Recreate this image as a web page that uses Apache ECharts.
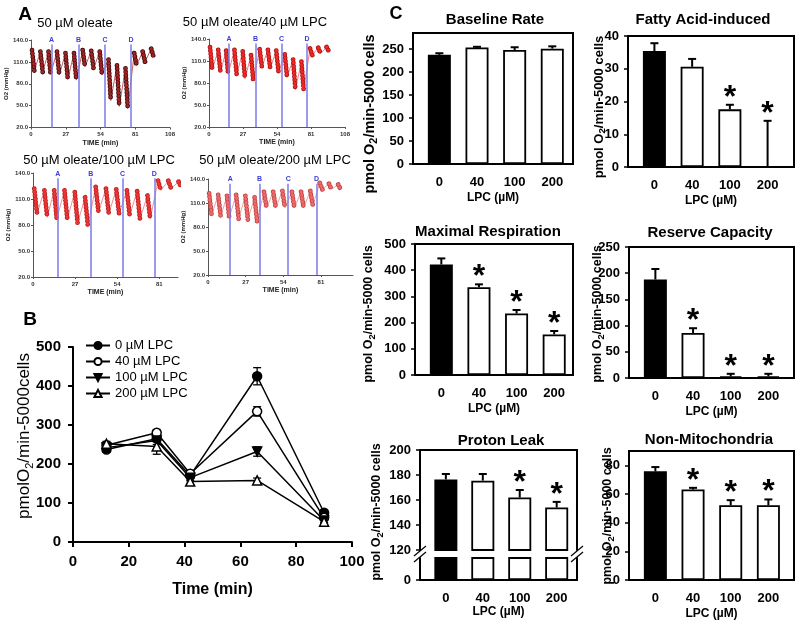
<!DOCTYPE html>
<html><head><meta charset="utf-8">
<script src="https://cdn.jsdelivr.net/npm/echarts@6/dist/echarts.min.js"></script>
<style>html,body{margin:0;padding:0;background:#fff}#c{width:800px;height:624px}</style>
</head><body><div id="c"></div>
<script>
// ---------- Panel A : O2 traces ----------
const cycleStart = [0.8, 7.3, 13.6, 20.2, 26.8, 33.4, 40.2, 46.8, 53.4, 60.2, 66.8, 73.4, 80.2, 86.8, 93.4];
const cycleEnd   = [2.6, 9.1, 15.2, 22.0, 28.6, 35.2, 42.0, 48.6, 55.2, 62.0, 68.6, 75.2, 82.0, 88.6, 95.2];
const injectTimes  = [15.9, 37.0, 57.5, 77.8];
const injectLabels = ['A', 'B', 'C', 'D'];
const timeTicksA = [0, 27, 54, 81, 108];
const o2Ticks = [20, 50, 80, 110, 140];
const a1Top    = [126, 124, 124, 124, 122, 122, 126, 125, 124, 113, 105, 101, 122, 124, 128];
const a1Bottom = [98, 96, 93, 92, 86, 85, 103, 101, 92, 57, 49, 46, 105, 110, 117];
const a2Top    = [129, 125, 124, 125, 123, 118, 126, 125, 124, 119, 112, 109, 127, 128, 129];
const a2Bottom = [98, 95, 92, 91, 86, 83, 102, 100, 95, 88, 71, 70, 118, 120, 123];
const a3Top    = [122, 120, 120, 120, 118, 112, 124, 122, 121, 120, 119, 114, 131, 131, 130];
const a3Bottom = [93, 89, 87, 87, 82, 79, 95, 93, 93, 91, 87, 87, 120, 122, 123];
const a4Top    = [122, 120, 119, 120, 119, 117, 124, 124, 125, 124, 124, 125, 135, 134, 133];
const a4Bottom = [95, 93, 92, 90, 89, 87, 104, 104, 104, 104, 104, 107, 127, 127, 127];

// ---------- Panel B : OCR time course ----------
const timeB   = [12, 30, 42, 66, 90];
const lpc0    = [237, 265, 170, 425, 75];
const lpc40   = [248, 280, 175, 335, 62];
const lpc100  = [242, 260, 165, 232, 55];
const lpc200  = [252, 245, 155, 158, 52];
const err0    = [6, 8, 8, 22, 5];
const err40   = [6, 8, 8, 12, 5];
const err100  = [6, 10, 8, 12, 5];
const err200  = [6, 20, 8, 6, 5];
const namesB  = ['0 \u00b5M LPC', '40 \u00b5M LPC', '100 \u00b5M LPC', '200 \u00b5M LPC'];

// ---------- Panel C : bar charts ----------
const lpcCats = ['0', '40', '100', '200'];
const baseline = [237.5, 253.5, 248, 251];
const baselineErr = [3.5, 1.5, 6, 5];
const baselineSig = [0, 0, 0, 0];
const fattyAcid = [35.4, 30.6, 17.6, 0];
const fattyAcidErr = [2.4, 2.4, 1.4, 14.1];
const fattyAcidSig = [0, 0, 1, 1];
const maximal = [422, 335, 235, 155];
const maximalErr = [23, 11, 13, 13];
const maximalSig = [0, 1, 1, 1];
const reserve = [188, 86, 3, 3];
const reserveErr = [20, 9, 5, 5];
const reserveSig = [0, 1, 1, 1];
const proton = [176.5, 175.5, 162, 154];
const protonErr = [4.3, 5.3, 6, 4.5];
const protonSig = [0, 0, 1, 1];
const nonMito = [75.8, 63.1, 52.2, 52.2];
const nonMitoErr = [3, 1.2, 3.5, 4];
const nonMitoSig = [0, 1, 1, 1];
const barFill = ['#000000', '#ffffff', '#ffffff', '#ffffff'];

const FONT = '"Liberation Sans", Arial, sans-serif';
const grids = [], xAxes = [], yAxes = [], series = [], graphics = [];
function addGrid(g) { grids.push(Object.assign({ outerBoundsMode: 'none', containLabel: false }, g)); return grids.length - 1; }
function addX(a) { xAxes.push(a); return xAxes.length - 1; }
function addY(a) { yAxes.push(a); return yAxes.length - 1; }
function txt(x, y, text, font) {
  graphics.push({ type: 'text', x: x, y: y, silent: true,
    style: { text: text, font: font, fill: '#000', align: 'center', verticalAlign: 'middle',
      textAlign: 'center', textVerticalAlign: 'middle' } });
}

// ----- Panel A builder -----
function panelA(rect, xMax, tops, bottoms, dotColor, edgeColor, lineColor) {
  const gi = addGrid(rect);
  const ticks = timeTicksA.filter(v => v <= xMax);
  const xi = addX({ type: 'value', gridIndex: gi, min: 0, max: xMax,
    axisLine: { show: true, onZero: false, lineStyle: { color: '#555', width: 1 } },
    axisTick: { show: true, length: 2, customValues: ticks, lineStyle: { color: '#555' } },
    axisLabel: { customValues: ticks, fontSize: 6, fontWeight: 'bold', color: '#333', margin: 4, fontFamily: FONT },
    splitLine: { show: false },
    name: 'TIME (min)', nameLocation: 'middle', nameGap: 12,
    nameTextStyle: { fontSize: 7, fontWeight: 'bold', color: '#222', fontFamily: FONT } });
  const yi = addY({ type: 'value', gridIndex: gi, min: 20, max: 140,
    axisLine: { show: true, onZero: false, lineStyle: { color: '#555', width: 1 } },
    axisTick: { show: true, length: 2, customValues: o2Ticks, lineStyle: { color: '#555' } },
    axisLabel: { customValues: o2Ticks, fontSize: 6, fontWeight: 'bold', color: '#333', margin: 3,
      fontFamily: FONT, formatter: v => Number(v).toFixed(1) },
    splitLine: { show: false },
    name: 'O2 (mmHg)', nameLocation: 'middle', nameGap: 16,
    nameTextStyle: { fontSize: 6, fontWeight: 'bold', color: '#222', fontFamily: FONT } });
  const trace = [], dots = [];
  for (let i = 0; i < cycleStart.length; i++) {
    trace.push([cycleStart[i], tops[i]], [cycleEnd[i], bottoms[i]]);
    dots.push([cycleStart[i], tops[i]], [cycleEnd[i], bottoms[i]], [cycleEnd[i], '-']);
  }
  series.push({ type: 'line', xAxisIndex: xi, yAxisIndex: yi, data: trace, symbol: 'none', silent: true,
    lineStyle: { color: lineColor, width: 1 }, z: 2,
    markLine: { symbol: 'none', silent: true, animation: false,
      lineStyle: { color: '#7a7aea', width: 1.5, type: 'solid' },
      label: { show: true, position: 'end', formatter: '{b}', color: '#3c3cd0', fontSize: 7,
        fontWeight: 'bold', distance: 1, fontFamily: FONT },
      data: injectTimes.map((t, i) => [{ name: injectLabels[i], coord: [t, 20] }, { coord: [t, 134] }]) } });
  series.push({ type: 'line', xAxisIndex: xi, yAxisIndex: yi, data: dots, symbol: 'none', silent: true,
    connectNulls: false, lineStyle: { color: edgeColor, width: 4.8, type: [0.01, 3.4], cap: 'round' }, z: 3 });
  series.push({ type: 'line', xAxisIndex: xi, yAxisIndex: yi, data: dots, symbol: 'none', silent: true,
    connectNulls: false, lineStyle: { color: dotColor, width: 3.3, type: [0.01, 3.4], cap: 'round' }, z: 4 });
}
panelA({ left: 31, top: 40, width: 139, height: 87.5 }, 108, a1Top, a1Bottom, '#a02424', '#3a0808', '#c86060');
panelA({ left: 209, top: 39, width: 136, height: 88 }, 108, a2Top, a2Bottom, '#f02828', '#a81010', '#f08080');
panelA({ left: 33, top: 173, width: 145, height: 104 }, 93, a3Top, a3Bottom, '#ee3434', '#b81c1c', '#f09090');
panelA({ left: 208, top: 179, width: 145, height: 96 }, 104, a4Top, a4Bottom, '#ee6a6a', '#b84040', '#f4a0a0');

// ----- Panel B -----
const gB = addGrid({ left: 73, top: 347, width: 279, height: 195 });
const xB = addX({ type: 'value', gridIndex: gB, min: 0, max: 100, interval: 20,
  axisLine: { show: true, onZero: false, lineStyle: { color: '#000', width: 2 } },
  axisTick: { show: true, length: 5, lineStyle: { color: '#000', width: 2 } },
  axisLabel: { fontSize: 15, fontWeight: 'bold', color: '#000', margin: 12, fontFamily: FONT },
  splitLine: { show: false },
  name: 'Time (min)', nameLocation: 'middle', nameGap: 40,
  nameTextStyle: { fontSize: 16, fontWeight: 'bold', color: '#000', fontFamily: FONT } });
const yB = addY({ type: 'value', gridIndex: gB, min: 0, max: 500, interval: 100,
  axisLine: { show: true, onZero: false, lineStyle: { color: '#000', width: 2 } },
  axisTick: { show: true, length: 5, lineStyle: { color: '#000', width: 2 } },
  axisLabel: { fontSize: 15, fontWeight: 'bold', color: '#000', margin: 12, fontFamily: FONT },
  splitLine: { show: false } });
const seriesB = [
  { vals: lpc0, err: err0, symbol: 'circle', rot: 0, fill: '#000' },
  { vals: lpc40, err: err40, symbol: 'circle', rot: 0, fill: '#fff' },
  { vals: lpc100, err: err100, symbol: 'triangle', rot: 180, fill: '#000' },
  { vals: lpc200, err: err200, symbol: 'triangle', rot: 0, fill: '#fff' }
];
function errRenderB(params, api) {
  const x = api.value(0), y = api.value(1), e = api.value(2);
  const hi = api.coord([x, y + e]), lo = api.coord([x, y - e]);
  const st = { stroke: '#000', lineWidth: 1.3 };
  return { type: 'group', children: [
    { type: 'line', shape: { x1: hi[0], y1: hi[1], x2: lo[0], y2: lo[1] }, style: st },
    { type: 'line', shape: { x1: hi[0] - 4, y1: hi[1], x2: hi[0] + 4, y2: hi[1] }, style: st },
    { type: 'line', shape: { x1: lo[0] - 4, y1: lo[1], x2: lo[0] + 4, y2: lo[1] }, style: st }
  ] };
}
seriesB.forEach((s, k) => {
  series.push({ type: 'custom', xAxisIndex: xB, yAxisIndex: yB, silent: true, z: 1,
    data: timeB.map((t, i) => [t, s.vals[i], s.err[i]]), encode: { x: 0, y: 1 }, renderItem: errRenderB });
});
seriesB.forEach((s, k) => {
  series.push({ type: 'line', name: namesB[k], xAxisIndex: xB, yAxisIndex: yB,
    data: timeB.map((t, i) => [t, s.vals[i]]), symbol: s.symbol, symbolRotate: s.rot, symbolSize: 9,
    showAllSymbol: true, lineStyle: { color: '#000', width: 1.5 },
    itemStyle: { color: s.fill, borderColor: '#000', borderWidth: 1.5 }, z: 3 + k });
});
graphics.push({ type: 'text', x: 24, y: 436, rotation: Math.PI / 2, silent: true,
  style: { text: 'pmolO{sub|2}/min-5000cells', font: '17px ' + FONT, fill: '#000', lineHeight: 22,
    align: 'center', verticalAlign: 'middle', textAlign: 'center', textVerticalAlign: 'middle',
    rich: { sub: { fontSize: 11, fontFamily: FONT, lineHeight: 11, verticalAlign: 'bottom', fill: '#000' } } } });

// ----- Panel C builder -----
function errRenderC(params, api) {
  const x = api.value(0), v = api.value(1), e = api.value(2), s = api.value(3);
  const p0 = api.coord([x, v]), p1 = api.coord([x, v + e]);
  const st = { stroke: '#000', lineWidth: 2 };
  const ch = [
    { type: 'line', shape: { x1: p0[0], y1: p0[1], x2: p1[0], y2: p1[1] }, style: st },
    { type: 'line', shape: { x1: p1[0] - 4, y1: p1[1], x2: p1[0] + 4, y2: p1[1] }, style: st }
  ];
  if (s) ch.push({ type: 'text', x: p1[0], y: p1[1] - 7,
    style: { text: '*', font: 'bold 32px ' + FONT, fill: '#000', align: 'center', verticalAlign: 'middle',
      textAlign: 'center', textVerticalAlign: 'middle' } });
  return { type: 'group', children: ch };
}
function catAxis(gi, xMax) {
  return addX({ type: 'value', gridIndex: gi, min: -0.7, max: xMax,
    axisLine: { show: false }, axisTick: { show: false }, splitLine: { show: false },
    axisLabel: { customValues: [0, 1, 2, 3], formatter: v => lpcCats[Math.round(v)],
      fontSize: 13, fontWeight: 'bold', color: '#000', margin: 12, fontFamily: FONT },
    name: 'LPC (\u00b5M)', nameLocation: 'middle', nameGap: 28,
    nameTextStyle: { fontSize: 12, fontWeight: 'bold', color: '#000', fontFamily: FONT } });
}
function valAxis(gi, min, max, ticks) {
  return addY({ type: 'value', gridIndex: gi, min: min, max: max,
    axisLine: { show: true, onZero: false, lineStyle: { color: '#000', width: 2 } },
    axisTick: { show: true, length: 4, customValues: ticks, lineStyle: { color: '#000', width: 1.5 } },
    axisLabel: { customValues: ticks, fontSize: 13, fontWeight: 'bold', color: '#000', margin: 9, fontFamily: FONT },
    splitLine: { show: false } });
}
function addBars(xi, yi, vals, errs, sigs) {
  series.push({ type: 'bar', xAxisIndex: xi, yAxisIndex: yi, barWidth: 23, silent: true, z: 2,
    data: vals.map((v, i) => ({ value: [i, v], itemStyle: { color: barFill[i] } })),
    itemStyle: { borderColor: '#000', borderWidth: 1.8 } });
  series.push({ type: 'custom', xAxisIndex: xi, yAxisIndex: yi, silent: true, z: 3,
    data: vals.map((v, i) => [i, v, errs[i], sigs[i]]), encode: { x: 0, y: 1 }, renderItem: errRenderC });
}
function yLabel(x, y, fs) {
  graphics.push({ type: 'text', x: x, y: y, rotation: Math.PI / 2, silent: true,
    style: { text: 'pmol O{sub|2}/min-5000 cells', font: 'bold ' + fs + 'px ' + FONT, fill: '#000', lineHeight: fs + 4,
      align: 'center', verticalAlign: 'middle', textAlign: 'center', textVerticalAlign: 'middle',
      rich: { sub: { fontSize: fs * 0.75, fontWeight: 'bold', fontFamily: FONT, lineHeight: fs * 0.7, verticalAlign: 'bottom', fill: '#000' } } } });
}
function panelC(rect, xMax, min, max, ticks, vals, errs, sigs, title, titleXY, yNameXY, yNameFs) {
  const gi = addGrid(Object.assign({ show: true, borderColor: '#000', borderWidth: 2, backgroundColor: 'transparent' }, rect));
  const xi = catAxis(gi, xMax);
  const yi = valAxis(gi, min, max, ticks);
  addBars(xi, yi, vals, errs, sigs);
  txt(titleXY[0], titleXY[1], title, 'bold 15px ' + FONT);
  yLabel(yNameXY[0], yNameXY[1], yNameFs);
}
panelC({ left: 413, top: 33, width: 160, height: 131 }, 3.55, 0, 285, [0, 50, 100, 150, 200, 250],
  baseline, baselineErr, baselineSig, 'Baseline Rate', [495, 20], [370, 114], 14.5);
panelC({ left: 628, top: 36, width: 166, height: 131 }, 3.7, 0, 40, [0, 10, 20, 30, 40],
  fattyAcid, fattyAcidErr, fattyAcidSig, 'Fatty Acid-induced', [703, 20], [599, 107], 13);
panelC({ left: 415, top: 244, width: 158, height: 131 }, 3.5, 0, 500, [0, 100, 200, 300, 400, 500],
  maximal, maximalErr, maximalSig, 'Maximal Respiration', [488, 232], [369, 314], 12.5);
panelC({ left: 629, top: 247, width: 165, height: 131 }, 3.68, 0, 250, [0, 50, 100, 150, 200, 250],
  reserve, reserveErr, reserveSig, 'Reserve Capacity', [710, 233], [598, 314], 12.5);
panelC({ left: 629, top: 451, width: 165, height: 129 }, 3.68, 0, 90, [0, 20, 40, 60, 80],
  nonMito, nonMitoErr, nonMitoSig, 'Non-Mitochondria', [709, 440], [608, 516], 12.5);

// Proton leak with broken axis
const gPU = addGrid({ left: 420, top: 450, width: 157, height: 100 });
const gPL = addGrid({ left: 420, top: 558, width: 157, height: 22 });
const xPU = addX({ type: 'value', gridIndex: gPU, min: -0.7, max: 3.55, position: 'top',
  axisLine: { show: true, onZero: false, lineStyle: { color: '#000', width: 2 } },
  axisTick: { show: false }, axisLabel: { show: false }, splitLine: { show: false } });
const yPU = valAxis(gPU, 120, 200, [120, 140, 160, 180, 200]);
addY({ type: 'value', gridIndex: gPU, min: 120, max: 200, position: 'right',
  axisLine: { show: true, onZero: false, lineStyle: { color: '#000', width: 2 } },
  axisTick: { show: false }, axisLabel: { show: false }, splitLine: { show: false } });
const xPL = addX({ type: 'value', gridIndex: gPL, min: -0.7, max: 3.55,
  axisLine: { show: true, onZero: false, lineStyle: { color: '#000', width: 2 } },
  axisTick: { show: false }, splitLine: { show: false },
  axisLabel: { customValues: [0, 1, 2, 3], formatter: v => lpcCats[Math.round(v)],
    fontSize: 13, fontWeight: 'bold', color: '#000', margin: 12, fontFamily: FONT },
  name: 'LPC (\u00b5M)', nameLocation: 'middle', nameGap: 26,
  nameTextStyle: { fontSize: 12, fontWeight: 'bold', color: '#000', fontFamily: FONT } });
const yPL = valAxis(gPL, 0, 15, [0]);
addY({ type: 'value', gridIndex: gPL, min: 0, max: 15, position: 'right',
  axisLine: { show: true, onZero: false, lineStyle: { color: '#000', width: 2 } },
  axisTick: { show: false }, axisLabel: { show: false }, splitLine: { show: false } });
addBars(xPU, yPU, proton, protonErr, protonSig);
series.push({ type: 'bar', xAxisIndex: xPL, yAxisIndex: yPL, barWidth: 23, silent: true, z: 2,
  data: proton.map((v, i) => ({ value: [i, v], itemStyle: { color: barFill[i] } })),
  itemStyle: { borderColor: '#000', borderWidth: 1.8 } });
txt(501, 441, 'Proton Leak', 'bold 15px ' + FONT);
yLabel(377, 512, 12.5);
// break marks
[420, 577].forEach(x => {
  [0, 6].forEach(o => {
    graphics.push({ type: 'line', silent: true, shape: { x1: x - 6, y1: 556 + o, x2: x + 6, y2: 546 + o },
      style: { stroke: '#000', lineWidth: 1.2 } });
  });
});

// ----- Panel A titles & letters -----
txt(75, 23, '50 \u00b5M oleate', '13px ' + FONT);
txt(255, 22, '50 \u00b5M oleate/40 \u00b5M LPC', '13px ' + FONT);
txt(99, 160, '50 \u00b5M oleate/100 \u00b5M LPC', '13px ' + FONT);
txt(275, 160, '50 \u00b5M oleate/200 \u00b5M LPC', '13px ' + FONT);
txt(25, 15, 'A', 'bold 19px ' + FONT);
txt(30, 320, 'B', 'bold 19px ' + FONT);
txt(396, 14, 'C', 'bold 18px ' + FONT);

const chart = echarts.init(document.getElementById('c'), null, { renderer: 'canvas' });
chart.setOption({
  animation: false,
  backgroundColor: '#fff',
  textStyle: { fontFamily: FONT },
  grid: grids, xAxis: xAxes, yAxis: yAxes, series: series,
  legend: { data: namesB, left: 80, top: 334, orient: 'vertical', itemGap: 3, itemWidth: 24, itemHeight: 9,
    selectedMode: false, textStyle: { fontSize: 13, color: '#000', fontFamily: FONT } },
  graphic: { elements: graphics }
});
</script></body></html>
